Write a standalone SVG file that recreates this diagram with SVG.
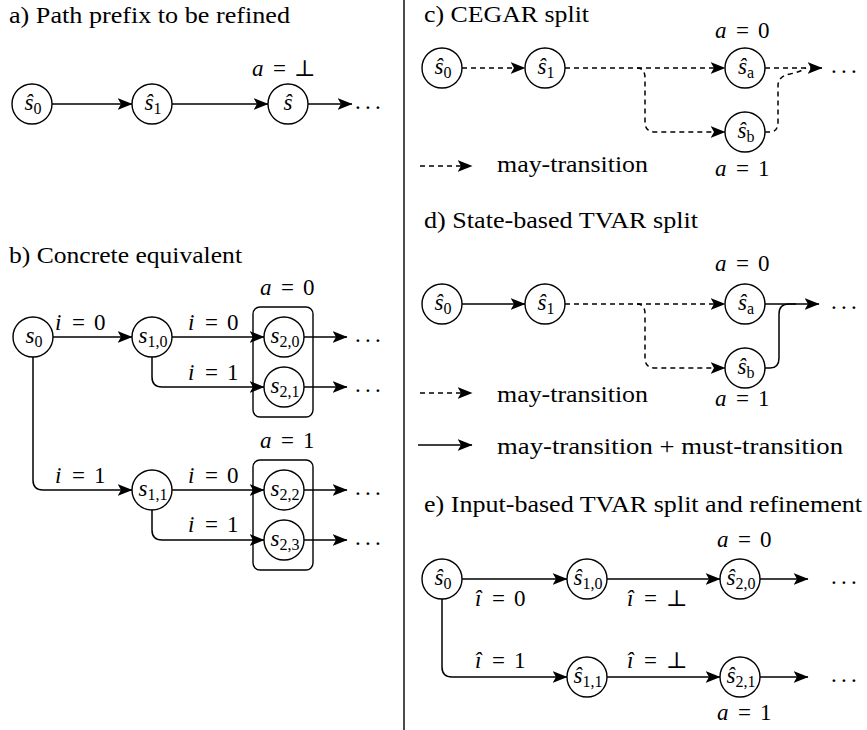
<svg xmlns="http://www.w3.org/2000/svg" width="867" height="730" viewBox="0 0 867 730">
<defs>
<style>
.t{font-family:"Liberation Serif","DejaVu Serif","Noto Serif",serif;font-size:23px;fill:#000}
.it{font-style:italic}
.sub{font-size:16px}
.nl{text-anchor:middle}
circle{fill:#fff;stroke:#000;stroke-width:1.4}
.e{fill:none;stroke:#000;stroke-width:1.5}
.d{stroke-dasharray:5 4}
.box{fill:none;stroke:#000;stroke-width:1.4}
.dots{letter-spacing:4.3px}
</style>
<marker id="ah" viewBox="0 0 15 12" refX="14.5" refY="6" markerWidth="15" markerHeight="12" markerUnits="userSpaceOnUse" orient="auto">
<path d="M0,0 L15,6 L0,12 L3.5,6 Z" fill="#000"/>
</marker>
</defs>
<rect width="867" height="730" fill="#fff"/>
<line x1="404" y1="0" x2="404" y2="730" stroke="#000" stroke-width="1.4"/>

<g id="titles" class="t">
<text x="9" y="23" textLength="281" lengthAdjust="spacingAndGlyphs">a) Path prefix to be refined</text>
<text x="9" y="263" textLength="233" lengthAdjust="spacingAndGlyphs">b) Concrete equivalent</text>
<text x="424" y="22" textLength="165" lengthAdjust="spacingAndGlyphs">c) CEGAR split</text>
<text x="424" y="228" textLength="274" lengthAdjust="spacingAndGlyphs">d) State-based TVAR split</text>
<text x="424" y="512" textLength="438" lengthAdjust="spacingAndGlyphs">e) Input-based TVAR split and refinement</text>
</g>

<g id="connectors">
<path class="e" d="M52,104 H132" marker-end="url(#ah)"/>
<path class="e" d="M172,104 H268" marker-end="url(#ah)"/>
<path class="e" d="M308,104 H352" marker-end="url(#ah)"/>
<path class="e" d="M53,337 H132" marker-end="url(#ah)"/>
<path class="e" d="M172,337 H264" marker-end="url(#ah)"/>
<path class="e" d="M152,357 V377 Q152,387 162,387 H264" marker-end="url(#ah)"/>
<path class="e" d="M304,337 H347" marker-end="url(#ah)"/>
<path class="e" d="M304,387 H347" marker-end="url(#ah)"/>
<path class="e" d="M33,357 V480 Q33,490 43,490 H132" marker-end="url(#ah)"/>
<path class="e" d="M172,490 H264" marker-end="url(#ah)"/>
<path class="e" d="M152,510 V530 Q152,540 162,540 H264" marker-end="url(#ah)"/>
<path class="e" d="M304,490 H347" marker-end="url(#ah)"/>
<path class="e" d="M304,540 H347" marker-end="url(#ah)"/>
<path class="e d" d="M462,68 H525" marker-end="url(#ah)"/>
<path class="e d" d="M565,68 H725" marker-end="url(#ah)"/>
<path class="e d" d="M637,68 Q645,68 645,78 V122 Q645,132 655,132 H725" marker-end="url(#ah)"/>
<path class="e d" d="M765,68 H822" marker-end="url(#ah)"/>
<path class="e d" d="M765,132 H770 Q778,132 778,122 V86 Q778,76 790,74 Q800,72 806,68"/>
<path class="e d" d="M420,166 H472" marker-end="url(#ah)"/>
<path class="e" d="M462,304 H525" marker-end="url(#ah)"/>
<path class="e d" d="M565,304 H725" marker-end="url(#ah)"/>
<path class="e d" d="M637,304 Q645,304 645,314 V358 Q645,368 655,368 H725" marker-end="url(#ah)"/>
<path class="e" d="M765,304 H819" marker-end="url(#ah)"/>
<path class="e" d="M765,368 H770 Q779,368 779,358 V314 Q779,304 789,304 H796"/>
<path class="e d" d="M420,393 H472" marker-end="url(#ah)"/>
<path class="e" d="M418,445 H472" marker-end="url(#ah)"/>
<path class="e" d="M462,579 H567" marker-end="url(#ah)"/>
<path class="e" d="M607,579 H720" marker-end="url(#ah)"/>
<path class="e" d="M760,579 H808" marker-end="url(#ah)"/>
<path class="e" d="M442,599 V667 Q442,677 452,677 H567" marker-end="url(#ah)"/>
<path class="e" d="M607,677 H720" marker-end="url(#ah)"/>
<path class="e" d="M760,677 H808" marker-end="url(#ah)"/>
</g>

<g id="boxes">
<rect class="box" x="253" y="307" width="60" height="110" rx="7"/>
<rect class="box" x="253" y="460" width="60" height="110" rx="7"/>
</g>

<g id="a_s0"><circle cx="32" cy="104" r="20"/><text class="t nl" x="33" y="110"><tspan class="it">ŝ</tspan><tspan class="sub" dy="4">0</tspan></text></g>
<g id="a_s1"><circle cx="152" cy="104" r="20"/><text class="t nl" x="153" y="110"><tspan class="it">ŝ</tspan><tspan class="sub" dy="4">1</tspan></text></g>
<g id="a_s"><circle cx="288" cy="104" r="20"/><text class="t nl it" x="288" y="110">ŝ</text></g>

<g id="b_s0"><circle cx="33" cy="337" r="20"/><text class="t nl" x="34" y="343"><tspan class="it">s</tspan><tspan class="sub" dy="4">0</tspan></text></g>
<g id="b_s10"><circle cx="152" cy="337" r="20"/><text class="t nl" x="153" y="343"><tspan class="it">s</tspan><tspan class="sub" dy="4">1,0</tspan></text></g>
<g id="b_s20"><circle cx="284" cy="337" r="20"/><text class="t nl" x="285" y="343"><tspan class="it">s</tspan><tspan class="sub" dy="4">2,0</tspan></text></g>
<g id="b_s21"><circle cx="284" cy="387" r="20"/><text class="t nl" x="285" y="393"><tspan class="it">s</tspan><tspan class="sub" dy="4">2,1</tspan></text></g>
<g id="b_s11"><circle cx="152" cy="490" r="20"/><text class="t nl" x="153" y="496"><tspan class="it">s</tspan><tspan class="sub" dy="4">1,1</tspan></text></g>
<g id="b_s22"><circle cx="284" cy="490" r="20"/><text class="t nl" x="285" y="496"><tspan class="it">s</tspan><tspan class="sub" dy="4">2,2</tspan></text></g>
<g id="b_s23"><circle cx="284" cy="540" r="20"/><text class="t nl" x="285" y="546"><tspan class="it">s</tspan><tspan class="sub" dy="4">2,3</tspan></text></g>

<g id="c_s0"><circle cx="442" cy="68" r="20"/><text class="t nl" x="443" y="74"><tspan class="it">ŝ</tspan><tspan class="sub" dy="4">0</tspan></text></g>
<g id="c_s1"><circle cx="545" cy="68" r="20"/><text class="t nl" x="546" y="74"><tspan class="it">ŝ</tspan><tspan class="sub" dy="4">1</tspan></text></g>
<g id="c_sa"><circle cx="745" cy="68" r="20"/><text class="t nl" x="746" y="74"><tspan class="it">ŝ</tspan><tspan class="sub" dy="4">a</tspan></text></g>
<g id="c_sb"><circle cx="745" cy="132" r="20"/><text class="t nl" x="746" y="138"><tspan class="it">ŝ</tspan><tspan class="sub" dy="4">b</tspan></text></g>

<g id="d_s0"><circle cx="442" cy="304" r="20"/><text class="t nl" x="443" y="310"><tspan class="it">ŝ</tspan><tspan class="sub" dy="4">0</tspan></text></g>
<g id="d_s1"><circle cx="545" cy="304" r="20"/><text class="t nl" x="546" y="310"><tspan class="it">ŝ</tspan><tspan class="sub" dy="4">1</tspan></text></g>
<g id="d_sa"><circle cx="745" cy="304" r="20"/><text class="t nl" x="746" y="310"><tspan class="it">ŝ</tspan><tspan class="sub" dy="4">a</tspan></text></g>
<g id="d_sb"><circle cx="745" cy="368" r="20"/><text class="t nl" x="746" y="374"><tspan class="it">ŝ</tspan><tspan class="sub" dy="4">b</tspan></text></g>

<g id="e_s0"><circle cx="442" cy="579" r="20"/><text class="t nl" x="443" y="585"><tspan class="it">ŝ</tspan><tspan class="sub" dy="4">0</tspan></text></g>
<g id="e_s10"><circle cx="587" cy="579" r="20"/><text class="t nl" x="588" y="585"><tspan class="it">ŝ</tspan><tspan class="sub" dy="4">1,0</tspan></text></g>
<g id="e_s20"><circle cx="740" cy="579" r="20"/><text class="t nl" x="741" y="585"><tspan class="it">ŝ</tspan><tspan class="sub" dy="4">2,0</tspan></text></g>
<g id="e_s11"><circle cx="587" cy="677" r="20"/><text class="t nl" x="588" y="683"><tspan class="it">ŝ</tspan><tspan class="sub" dy="4">1,1</tspan></text></g>
<g id="e_s21"><circle cx="740" cy="677" r="20"/><text class="t nl" x="741" y="683"><tspan class="it">ŝ</tspan><tspan class="sub" dy="4">2,1</tspan></text></g>

<g id="labels" class="t">
<text x="252" y="76"><tspan class="it">a</tspan><tspan x="273">=</tspan><tspan x="294">⊥</tspan></text>
<text x="55" y="330"><tspan class="it">i</tspan><tspan x="72">=</tspan><tspan x="94">0</tspan></text>
<text x="188" y="330"><tspan class="it">i</tspan><tspan x="205">=</tspan><tspan x="227">0</tspan></text>
<text x="188" y="380"><tspan class="it">i</tspan><tspan x="205">=</tspan><tspan x="227">1</tspan></text>
<text x="260" y="295"><tspan class="it">a</tspan><tspan x="281">=</tspan><tspan x="303">0</tspan></text>
<text x="55" y="483"><tspan class="it">i</tspan><tspan x="72">=</tspan><tspan x="94">1</tspan></text>
<text x="188" y="483"><tspan class="it">i</tspan><tspan x="205">=</tspan><tspan x="227">0</tspan></text>
<text x="188" y="532"><tspan class="it">i</tspan><tspan x="205">=</tspan><tspan x="227">1</tspan></text>
<text x="260" y="448"><tspan class="it">a</tspan><tspan x="281">=</tspan><tspan x="303">1</tspan></text>
<text x="715" y="38"><tspan class="it">a</tspan><tspan x="736">=</tspan><tspan x="758">0</tspan></text>
<text x="715" y="176"><tspan class="it">a</tspan><tspan x="736">=</tspan><tspan x="758">1</tspan></text>
<text x="715" y="271"><tspan class="it">a</tspan><tspan x="736">=</tspan><tspan x="758">0</tspan></text>
<text x="715" y="406"><tspan class="it">a</tspan><tspan x="736">=</tspan><tspan x="758">1</tspan></text>
<text x="717" y="547"><tspan class="it">a</tspan><tspan x="738">=</tspan><tspan x="760">0</tspan></text>
<text x="717" y="720"><tspan class="it">a</tspan><tspan x="738">=</tspan><tspan x="760">1</tspan></text>
<text x="475" y="606"><tspan class="it">î</tspan><tspan x="492">=</tspan><tspan x="514">0</tspan></text>
<text x="627" y="606"><tspan class="it">î</tspan><tspan x="644">=</tspan><tspan x="666">⊥</tspan></text>
<text x="475" y="668"><tspan class="it">î</tspan><tspan x="492">=</tspan><tspan x="514">1</tspan></text>
<text x="627" y="668"><tspan class="it">î</tspan><tspan x="644">=</tspan><tspan x="666">⊥</tspan></text>
</g>

<g id="legend" class="t">
<text x="497" y="172" textLength="151" lengthAdjust="spacingAndGlyphs">may-transition</text>
<text x="497" y="402" textLength="151" lengthAdjust="spacingAndGlyphs">may-transition</text>
<text x="497" y="454" textLength="346" lengthAdjust="spacingAndGlyphs">may-transition + must-transition</text>
</g>

<g id="dots" class="t dots">
<text x="355" y="109">...</text>
<text x="355" y="342">...</text>
<text x="355" y="392">...</text>
<text x="355" y="495">...</text>
<text x="355" y="545">...</text>
<text x="831" y="73">...</text>
<text x="831" y="309">...</text>
<text x="831" y="584">...</text>
<text x="831" y="682">...</text>
</g>
</svg>
